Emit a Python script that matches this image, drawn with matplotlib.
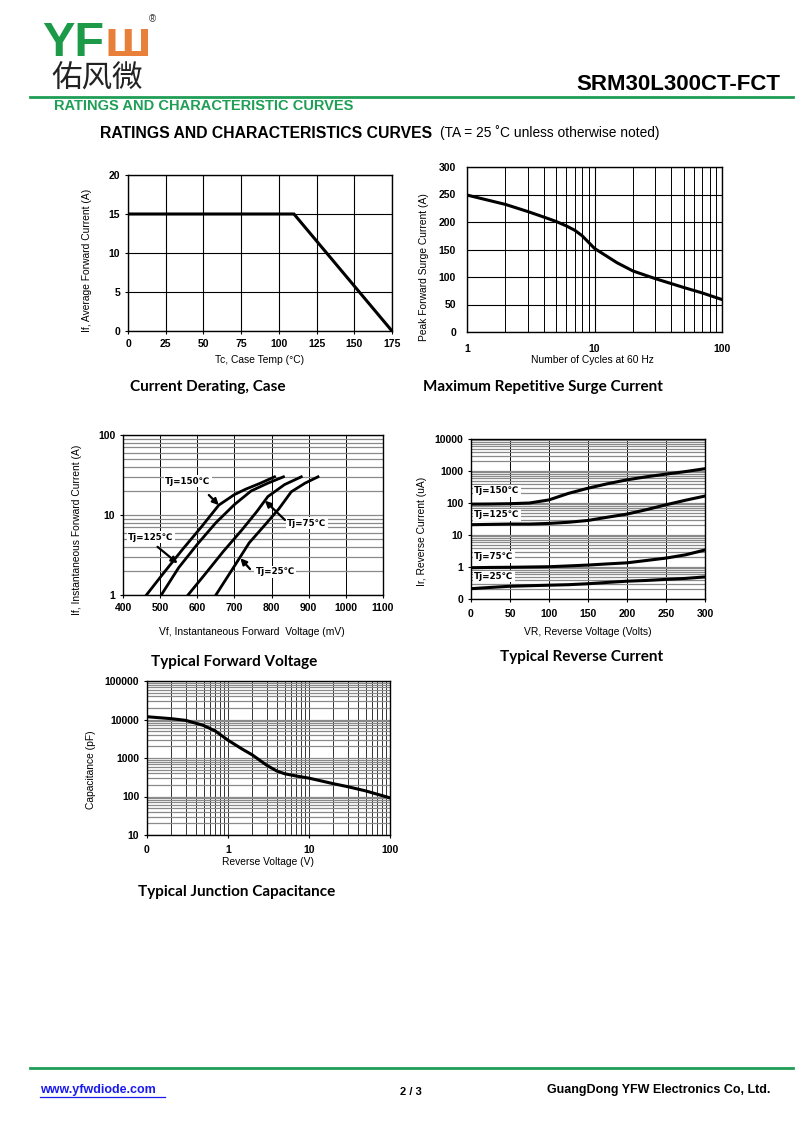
import matplotlib
matplotlib.use("Agg")
import matplotlib.pyplot as plt
from matplotlib.ticker import FixedLocator, FixedFormatter, NullFormatter, LogLocator
from matplotlib.lines import Line2D

plt.rcParams['font.family'] = ['Liberation Sans', 'DejaVu Sans']

# ---------------- data ----------------
# Current derating
derate_temp = [0, 110, 175]
derate_current = [15, 15, 0]

# Maximum repetitive surge current
surge_cycles = [1, 2, 3, 4, 5, 6, 7, 8, 10, 15, 20, 30, 50, 70, 100]
surge_amps = [249, 232, 219, 209, 201, 193, 185, 175, 152, 126, 111, 97, 81, 71, 59]

# Typical forward voltage (mV, A)
vf150 = [463, 510, 560, 610, 658, 700, 730, 770, 808]
if150 = [1, 1.9, 3.7, 7, 13.3, 18, 21, 25, 30]
vf125 = [503, 550, 600, 650, 700, 745, 790, 832]
if125 = [1, 2.2, 4.3, 8, 13.5, 20, 25, 30]
vf75 = [575, 620, 670, 720, 760, 790, 835, 880]
if75 = [1, 1.8, 3.5, 6.5, 11, 17, 24, 30]
vf25 = [650, 700, 740, 782, 820, 853, 890, 925]
if25 = [1, 2.3, 4.5, 7.5, 12, 19.5, 25, 30]

# Typical reverse current (V, uA)
vr = [0, 25, 50, 75, 100, 125, 150, 175, 200, 225, 250, 275, 300]
ir150 = [92, 93, 95, 100, 125, 200, 290, 400, 530, 660, 800, 960, 1180]
ir125 = [21, 21.5, 22, 22, 23, 25, 28.5, 36, 45, 62, 88, 122, 165]
ir75 = [0.95, 0.97, 0.98, 1.0, 1.02, 1.08, 1.15, 1.25, 1.35, 1.6, 1.9, 2.4, 3.4]
ir25 = [0.21, 0.23, 0.25, 0.26, 0.27, 0.28, 0.3, 0.33, 0.36, 0.38, 0.41, 0.44, 0.49]

# Typical junction capacitance (V, pF)
cap_v = [0.1, 0.2, 0.3, 0.5, 0.7, 1, 1.5, 2, 3, 4, 5, 7, 10, 20, 30, 50, 100]
cap_pf = [11800, 10500, 9500, 7000, 5000, 2900, 1700, 1200, 650, 460, 390, 340, 300, 215, 180, 140, 92]

# tick labels
derate_xticks = [0, 25, 50, 75, 100, 125, 150, 175]
derate_yticks = [0, 5, 10, 15, 20]
surge_xticks = [1, 10, 100]
surge_yticks = [0, 50, 100, 150, 200, 250, 300]
fwd_xticks = [400, 500, 600, 700, 800, 900, 1000, 1100]
fwd_yticks = [1, 10, 100]
rev_xticks = [0, 50, 100, 150, 200, 250, 300]
rev_yticks = [0.1, 1, 10, 100, 1000, 10000]
rev_ylabels = ["0", "1", "10", "100", "1000", "10000"]
cap_xticks = [0.1, 1, 10, 100]
cap_xlabels = ["0", "1", "10", "100"]
cap_yticks = [10, 100, 1000, 10000, 100000]

# ---------------- figure ----------------
W, H = 800, 1130
fig = plt.figure(figsize=(8, 11.3), dpi=100)
fig.patch.set_facecolor('white')

def fx(x):
    return x / W

def fy(y):
    return 1 - y / H

def add_ax(l, t, r, b):
    return fig.add_axes([fx(l), fy(b), (r - l) / W, (b - t) / H])

def txt(x, y, s, **kw):
    fig.text(fx(x), fy(y), s, **kw)

GREEN = '#1f9e55'
TICKFS = 7.5
LABFS = 7.4
SUBFS = 11

def style(ax):
    for sp in ax.spines.values():
        sp.set_linewidth(1.0)
        sp.set_color('black')
    ax.tick_params(which='both', length=2.5, width=0.8, labelsize=TICKFS, pad=3)
    for lab in ax.get_xticklabels() + ax.get_yticklabels():
        lab.set_fontweight('bold')
    ax.set_axisbelow(True)

# ---- header ----
txt(42, 56, "YF", fontsize=35, fontweight='bold', color='#1c9a48', ha='left', va='baseline')
txt(104, 56, "Ш", fontsize=27, fontweight='bold', color='#e8803a', ha='left', va='baseline',
    family=['DejaVu Sans'])
txt(152, 19, "®", fontsize=7, color='#333333', ha='center', va='center')
txt(97, 79, "佑风微", fontsize=22, color='#222222', ha='center', va='center',
    family=['Noto Sans CJK SC', 'DejaVu Sans'])
txt(780, 84, "SRM30L300CT-FCT", fontsize=16, fontweight='bold', ha='right', va='center')
fig.add_artist(Line2D([fx(30), fx(793)], [fy(97), fy(97)], color=GREEN, lw=2))
txt(54, 106, "RATINGS AND CHARACTERISTIC CURVES", fontsize=10.5, fontweight='bold',
    color=GREEN, ha='left', va='center')
txt(100, 133, "RATINGS AND CHARACTERISTICS CURVES", fontsize=11.3, fontweight='bold',
    ha='left', va='center')
txt(440, 133, "(TA = 25 ˚C unless otherwise noted)", fontsize=9.9, ha='left', va='center')

# ---- chart 1: current derating ----
ax1 = add_ax(128, 175, 392, 331)
ax1.plot(derate_temp, derate_current, color='black', lw=2.2, solid_joinstyle='miter')
ax1.set_xlim(0, 175)
ax1.set_ylim(0, 20)
ax1.set_xticks(derate_xticks)
ax1.set_yticks(derate_yticks)
ax1.grid(True, color='black', lw=0.8)
style(ax1)
txt(260, 360, "Tc, Case Temp (°C)", fontsize=LABFS, ha='center', va='center')
txt(87, 260, "If, Average Forward Current (A)", fontsize=LABFS, ha='center', va='center',
    rotation=90)
txt(130, 387, "Current Derating, Case", fontsize=SUBFS, fontweight='bold', family=['Lato'],
    ha='left', va='center')

# ---- chart 2: surge ----
ax2 = add_ax(467, 167, 722, 332)
ax2.plot(surge_cycles, surge_amps, color='black', lw=2.2)
ax2.set_xscale('log')
ax2.set_xlim(1, 100)
ax2.set_ylim(0, 300)
ax2.xaxis.set_major_locator(FixedLocator(surge_xticks))
ax2.xaxis.set_major_formatter(FixedFormatter([str(v) for v in surge_xticks]))
ax2.xaxis.set_minor_locator(LogLocator(base=10, subs=range(2, 10)))
ax2.xaxis.set_minor_formatter(NullFormatter())
ax2.set_yticks(surge_yticks)
ax2.grid(True, which='major', color='black', lw=0.8)
ax2.grid(True, which='minor', axis='x', color='black', lw=0.7)
style(ax2)
ax2.tick_params(axis='x', which='both', length=0, pad=9)
ax2.tick_params(axis='y', length=0, pad=8)
txt(592, 360, "Number of Cycles at 60 Hz", fontsize=LABFS, ha='center', va='center')
txt(424, 267, "Peak Forward Surge Current (A)", fontsize=LABFS, ha='center', va='center',
    rotation=90)
txt(423, 387, "Maximum Repetitive Surge Current", fontsize=SUBFS, fontweight='bold',
    family=['Lato'], ha='left', va='center')

# ---- chart 3: forward voltage ----
ax3 = add_ax(123, 435, 383, 595)
for v, i in [(vf150, if150), (vf125, if125), (vf75, if75), (vf25, if25)]:
    ax3.plot(v, i, color='black', lw=2.0)
ax3.set_yscale('log')
ax3.set_xlim(400, 1100)
ax3.set_ylim(1, 100)
ax3.set_xticks(fwd_xticks)
ax3.yaxis.set_major_locator(FixedLocator(fwd_yticks))
ax3.yaxis.set_major_formatter(FixedFormatter([str(v) for v in fwd_yticks]))
ax3.yaxis.set_minor_locator(LogLocator(base=10, subs=range(2, 10)))
ax3.yaxis.set_minor_formatter(NullFormatter())
ax3.grid(True, which='major', axis='x', color='black', lw=0.7)
ax3.grid(True, which='both', axis='y', color='#8a8a8a', lw=0.9)
style(ax3)
ax3.tick_params(axis='y', which='minor', length=0)
box = dict(boxstyle='square,pad=0.15', fc='white', ec='none')
labels3 = [("Tj=150℃", 513, 26.6, 631, 17.8, 658, 13.3),
           ("Tj=125℃", 413, 5.3, 493, 4.0, 547, 2.49),
           ("Tj=75℃", 842, 7.9, 836, 8.66, 782, 15.1),
           ("Tj=25℃", 757, 1.94, 742, 2.11, 716, 2.88)]
for s, lx, ly, tx, ty, hx, hy in labels3:
    ax3.annotate("", xy=(hx, hy), xytext=(tx, ty),
                 arrowprops=dict(arrowstyle='-|>', color='black', lw=1.6,
                                 mutation_scale=9, shrinkA=0, shrinkB=0))
    ax3.text(lx, ly, s, fontsize=6.3, fontweight='bold', ha='left', va='center',
             bbox=box, family=['DejaVu Sans'])
txt(252, 632, "Vf, Instantaneous Forward  Voltage (mV)", fontsize=LABFS, ha='center',
    va='center')
txt(77, 530, "If, Instantaneous Forward Current (A)", fontsize=LABFS, ha='center',
    va='center', rotation=90)
txt(234, 662, "Typical Forward Voltage", fontsize=SUBFS, fontweight='bold', family=['Lato'],
    ha='center', va='center')

# ---- chart 4: reverse current ----
ax4 = add_ax(471, 439, 705, 599)
for i in [ir150, ir125, ir75, ir25]:
    ax4.plot(vr, i, color='black', lw=2.2)
ax4.set_yscale('log')
ax4.set_xlim(0, 300)
ax4.set_ylim(0.1, 10000)
ax4.set_xticks(rev_xticks)
ax4.yaxis.set_major_locator(FixedLocator(rev_yticks))
ax4.yaxis.set_major_formatter(FixedFormatter(rev_ylabels))
ax4.yaxis.set_minor_locator(LogLocator(base=10, subs=range(2, 10)))
ax4.yaxis.set_minor_formatter(NullFormatter())
ax4.grid(True, which='major', axis='x', color='black', lw=0.7)
ax4.grid(True, which='both', axis='y', color='#8a8a8a', lw=0.9)
style(ax4)
ax4.tick_params(axis='y', which='minor', length=0)
ax4.tick_params(axis='x', pad=5)
labels4 = [("Tj=150℃", 4, 240), ("Tj=125℃", 4, 43), ("Tj=75℃", 4, 2.1), ("Tj=25℃", 4, 0.5)]
for s, lx, ly in labels4:
    ax4.text(lx, ly, s, fontsize=6.3, fontweight='bold', ha='left', va='center', bbox=box,
             family=['DejaVu Sans'])
txt(588, 632, "VR, Reverse Voltage (Volts)", fontsize=LABFS, ha='center', va='center')
txt(422, 531, "Ir, Reverse Current (uA)", fontsize=LABFS, ha='center', va='center',
    rotation=90)
txt(582, 657, "Typical Reverse Current", fontsize=SUBFS, fontweight='bold', family=['Lato'],
    ha='center', va='center')

# ---- chart 5: capacitance ----
ax5 = add_ax(147, 681, 390, 835)
ax5.plot(cap_v, cap_pf, color='black', lw=2.2)
ax5.set_xscale('log')
ax5.set_yscale('log')
ax5.set_xlim(0.1, 100)
ax5.set_ylim(10, 100000)
ax5.xaxis.set_major_locator(FixedLocator(cap_xticks))
ax5.xaxis.set_major_formatter(FixedFormatter(cap_xlabels))
ax5.xaxis.set_minor_locator(LogLocator(base=10, subs=range(2, 10)))
ax5.xaxis.set_minor_formatter(NullFormatter())
ax5.yaxis.set_major_locator(FixedLocator(cap_yticks))
ax5.yaxis.set_major_formatter(FixedFormatter([str(v) for v in cap_yticks]))
ax5.yaxis.set_minor_locator(LogLocator(base=10, subs=range(2, 10)))
ax5.yaxis.set_minor_formatter(NullFormatter())
ax5.grid(True, which='both', axis='x', color='#333333', lw=0.7)
ax5.grid(True, which='both', axis='y', color='#8a8a8a', lw=0.9)
style(ax5)
ax5.tick_params(which='minor', length=0)
ax5.tick_params(axis='x', pad=5)
txt(268, 862, "Reverse Voltage (V)", fontsize=LABFS, ha='center', va='center')
txt(91, 770, "Capacitance (pF)", fontsize=LABFS, ha='center', va='center', rotation=90)
txt(138, 892, "Typical Junction Capacitance", fontsize=SUBFS, fontweight='bold',
    family=['Lato'], ha='left', va='center')

# ---- footer ----
fig.add_artist(Line2D([fx(30), fx(793)], [fy(1068), fy(1068)], color=GREEN, lw=2))
txt(40, 1090, "www.yfwdiode.com", fontsize=9, fontweight='bold', color='#1a1aee',
    ha='left', va='center')
fig.add_artist(Line2D([fx(40), fx(165)], [fy(1097), fy(1097)], color='#1a1aee', lw=0.9))
txt(411, 1092, "2 / 3", fontsize=8, fontweight='bold', ha='center', va='center')
txt(770, 1090, "GuangDong YFW Electronics Co, Ltd.", fontsize=9, fontweight='bold',
    ha='right', va='center')

fig.savefig("out.png", dpi=100, facecolor='white')
